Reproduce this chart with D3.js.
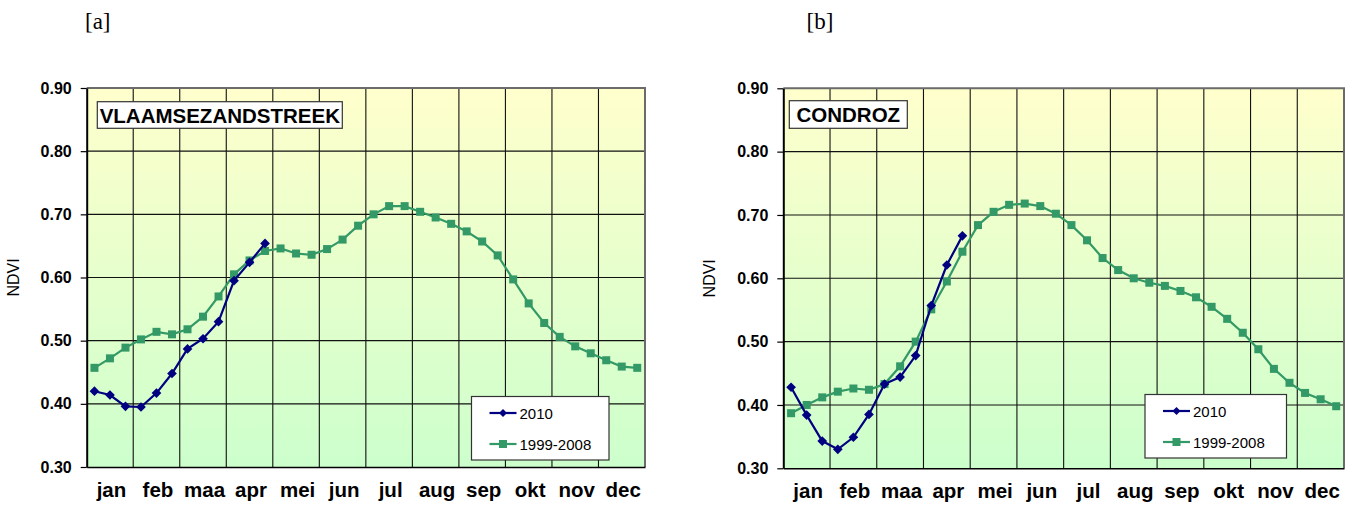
<!DOCTYPE html>
<html>
<head>
<meta charset="utf-8">
<script src="https://cdn.jsdelivr.net/npm/d3@7"></script>
<style>
  html, body { margin: 0; padding: 0; background: #fff; }
  svg { display: block; }
  text { font-family: "Liberation Sans", Arial, sans-serif; }
</style>
</head>
<body>
<svg id="chart" width="1360" height="506"></svg>
<script>
// ---------------- data ----------------
const months = ["jan","feb","maa","apr","mei","jun","jul","aug","sep","okt","nov","dec"];
const yTicks = [0.30, 0.40, 0.50, 0.60, 0.70, 0.80, 0.90];
const seriesNames = ["2010", "1999-2008"];

// Vlaamse Zandstreek (dekadal NDVI)
const vlaams2010 = [0.420, 0.414, 0.396, 0.395, 0.417, 0.448, 0.487, 0.503, 0.530, 0.595, 0.624, 0.654];
const vlaamsNorm = [0.457, 0.472, 0.489, 0.502, 0.514, 0.510, 0.518, 0.538, 0.570, 0.605, 0.627, 0.642,
                    0.646, 0.638, 0.636, 0.645, 0.660, 0.682, 0.700, 0.713, 0.713, 0.704, 0.695, 0.685,
                    0.673, 0.657, 0.635, 0.597, 0.559, 0.528, 0.506, 0.491, 0.480, 0.469, 0.459, 0.457];

// Condroz (dekadal NDVI)
const condroz2010 = [0.428, 0.384, 0.343, 0.330, 0.349, 0.385, 0.433, 0.444, 0.478, 0.557, 0.621, 0.667];
const condrozNorm = [0.387, 0.400, 0.412, 0.421, 0.426, 0.424, 0.433, 0.461, 0.500, 0.551, 0.595, 0.642,
                     0.684, 0.705, 0.716, 0.718, 0.714, 0.702, 0.684, 0.660, 0.632, 0.613, 0.600, 0.593,
                     0.588, 0.580, 0.570, 0.555, 0.536, 0.514, 0.488, 0.457, 0.435, 0.419, 0.409, 0.398];

const panels = [
  { tag: "[a]", title: "VLAAMSEZANDSTREEK", s2010: vlaams2010, sNorm: vlaamsNorm,
    x0: 86.7, x1: 645, y0: 88, y1: 467, tagX: 85, titleBox: [97.3, 101.7, 245, 26.6],
    legend: [471.5, 396.5, 137.5, 63.5] },
  { tag: "[b]", title: "CONDROZ", s2010: condroz2010, sNorm: condrozNorm,
    x0: 783.3, x1: 1344, y0: 88.3, y1: 468.3, tagX: 806.5, titleBox: [789.3, 100.7, 118, 27.6],
    legend: [1145, 394.5, 141.5, 63.5] }
];

const blue = "#000080", green = "#339966";
const svg = d3.select("#chart");

const defs = svg.append("defs");
const grad = defs.append("linearGradient").attr("id", "bg").attr("x1", 0).attr("y1", 0).attr("x2", 0).attr("y2", 1);
grad.append("stop").attr("offset", "0%").attr("stop-color", "#ffffcc");
grad.append("stop").attr("offset", "100%").attr("stop-color", "#ccffcc");

panels.forEach(p => {
  const g = svg.append("g");
  const dek = d3.range(36);
  const xD = d3.scaleBand().domain(dek).range([p.x0, p.x1]).padding(0);
  const xM = d3.scaleBand().domain(months).range([p.x0, p.x1]).padding(0);
  const y = d3.scaleLinear().domain([0.3, 0.9]).range([p.y1, p.y0]);
  const cx = i => xD(i) + xD.bandwidth() / 2;

  // panel tag
  g.append("text").attr("x", p.tagX).attr("y", 29)
    .style("font-family", "'Liberation Serif', 'Times New Roman', serif")
    .style("font-size", "23px").attr("fill", "#000").text(p.tag);

  // background
  g.append("rect").attr("x", p.x0).attr("y", p.y0).attr("width", p.x1 - p.x0).attr("height", p.y1 - p.y0)
    .attr("fill", "url(#bg)");

  // horizontal grid
  g.selectAll(".hg").data(yTicks.filter(t => t > 0.3 && t < 0.9)).join("line")
    .attr("x1", p.x0).attr("x2", p.x1).attr("y1", d => y(d)).attr("y2", d => y(d))
    .attr("stroke", "#111").attr("stroke-width", 1.1);
  // vertical grid
  g.selectAll(".vg").data(months.slice(1)).join("line")
    .attr("x1", d => xM(d)).attr("x2", d => xM(d)).attr("y1", p.y0).attr("y2", p.y1)
    .attr("stroke", "#111").attr("stroke-width", 1.1);

  // top/right border
  g.append("path")
    .attr("d", `M${p.x0},${p.y0}H${p.x1}V${p.y1}`)
    .attr("fill", "none").attr("stroke", "#6b6b6b").attr("stroke-width", 2);

  // y axis
  const ya = g.append("g").attr("transform", `translate(${p.x0},0)`)
    .call(d3.axisLeft(y).tickValues(yTicks).tickFormat(d3.format(".2f")).tickSize(6).tickPadding(9).tickSizeOuter(0));
  ya.select(".domain").attr("stroke", "#000").attr("stroke-width", 2);
  ya.selectAll(".tick line").attr("stroke", "#000").attr("stroke-width", 1.2);
  ya.selectAll(".tick text").style("font-family", "'Liberation Sans', Arial, sans-serif")
    .style("font-size", "16px").style("font-weight", "bold").attr("fill", "#000");

  // x axis
  const xa = g.append("g").attr("transform", `translate(0,${p.y1})`)
    .call(d3.axisBottom(xM).tickSize(0).tickPadding(15).tickSizeOuter(0));
  xa.select(".domain").attr("stroke", "#000").attr("stroke-width", 1.5);
  xa.selectAll(".tick text").attr("dx", "1.5px").style("font-family", "'Liberation Sans', Arial, sans-serif")
    .style("font-size", "20.5px").style("font-weight", "bold").attr("fill", "#000");

  // NDVI label
  g.append("text").attr("transform", `translate(${p.x0 - 68},${(p.y0 + p.y1) / 2}) rotate(-90)`)
    .attr("text-anchor", "middle").style("font-size", "16px").attr("fill", "#000").text("NDVI");

  // series
  const line = d3.line().x((d, i) => cx(i)).y(d => y(d));
  g.append("path").datum(p.sNorm).attr("d", line).attr("fill", "none")
    .attr("stroke", green).attr("stroke-width", 2.2);
  g.selectAll(".sq").data(p.sNorm).join("rect")
    .attr("x", (d, i) => cx(i) - 4).attr("y", d => y(d) - 4).attr("width", 8).attr("height", 8)
    .attr("fill", green);

  g.append("path").datum(p.s2010).attr("d", line).attr("fill", "none")
    .attr("stroke", blue).attr("stroke-width", 2.2);
  const diamond = d3.symbol().type(d3.symbolDiamond2).size(60);
  g.selectAll(".dm").data(p.s2010).join("path")
    .attr("transform", (d, i) => `translate(${cx(i)},${y(d)})`)
    .attr("d", diamond).attr("fill", blue);

  // title box
  const [tx, ty, tw, th] = p.titleBox;
  g.append("rect").attr("x", tx).attr("y", ty).attr("width", tw).attr("height", th)
    .attr("fill", "#fff").attr("stroke", "#333").attr("stroke-width", 1.2);
  g.append("text").attr("x", tx + tw / 2).attr("y", ty + th / 2 + 7.5).attr("text-anchor", "middle")
    .style("font-size", "20.5px").style("font-weight", "bold").attr("fill", "#000").text(p.title);

  // legend
  const [lx, ly, lw, lh] = p.legend;
  const lg = g.append("g");
  lg.append("rect").attr("x", lx).attr("y", ly).attr("width", lw).attr("height", lh)
    .attr("fill", "#fff").attr("stroke", "#333").attr("stroke-width", 1.2);
  const colors = [blue, green];
  seriesNames.forEach((name, k) => {
    const yy = ly + 16.5 + k * 31;
    lg.append("line").attr("x1", lx + 18).attr("x2", lx + 45).attr("y1", yy).attr("y2", yy)
      .attr("stroke", colors[k]).attr("stroke-width", 2.2);
    if (k === 0) {
      lg.append("path").attr("transform", `translate(${lx + 31.5},${yy})`)
        .attr("d", d3.symbol().type(d3.symbolDiamond2).size(40)).attr("fill", blue);
    } else {
      lg.append("rect").attr("x", lx + 27.5).attr("y", yy - 4).attr("width", 8).attr("height", 8).attr("fill", green);
    }
    lg.append("text").attr("x", lx + 48).attr("y", yy + 5.5).style("font-size", "15px")
      .attr("fill", "#000").text(name);
  });
});
</script>
</body>
</html>
